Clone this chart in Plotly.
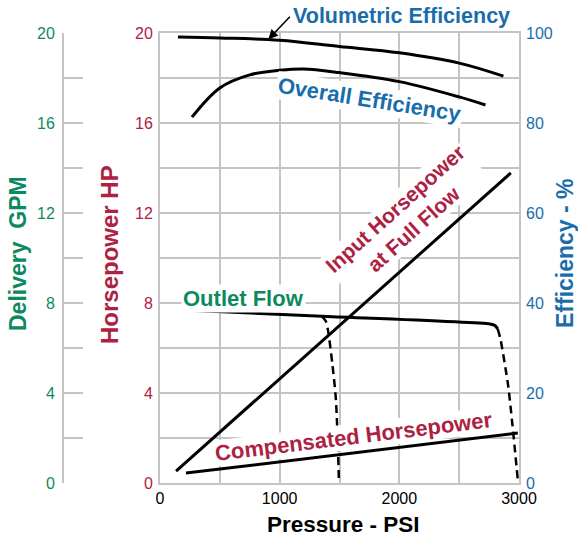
import plotly.graph_objects as go

W, H = 578, 540
GREEN = "#0d8a5d"
RED = "#ad2243"
BLUE = "#1a6dab"
GRID = "#c4c4c4"
FONT = "Liberation Sans, Arial, sans-serif"

# ---- data ----
vol_psi = [150, 500, 1000, 1500, 2000, 2500, 2870]
vol_eff = [99.1, 98.9, 98.4, 97.0, 95.6, 93.3, 90.4]

ovr_psi = [267, 500, 750, 1000, 1200, 1500, 2000, 2500, 2720]
ovr_eff = [81.3, 87.8, 90.7, 91.7, 92.0, 91.2, 89.2, 85.8, 84.0]

inhp_psi = [134, 2932]
inhp_hp = [0.53, 13.78]

comp_psi = [217, 2990]
comp_hp = [0.44, 2.22]

flow_psi = [184, 1353, 2757, 2800, 2822]
flow_gpm = [7.69, 7.41, 7.07, 7.0, 6.85]

flow_cut_psi = [2822, 2845, 2910, 2990]
flow_cut_gpm = [6.85, 6.4, 4.3, 0.15]

comp_cut_psi = [1353, 1385, 1405, 1440, 1470, 1495]
comp_cut_gpm = [7.41, 7.2, 6.75, 5.3, 3.7, 0.13]

x_ticks = [0, 500, 1000, 1500, 2000, 2500, 3000]
x_text = ["0", "", "1000", "", "2000", "", "3000"]
y_ticks = [0, 2, 4, 6, 8, 10, 12, 14, 16, 18, 20]
y_text = ["0", "", "4", "", "8", "", "12", "", "16", "", "20"]
e_ticks = [0, 20, 40, 60, 80, 100]
e_text = ["0", "20", "40", "60", "80", "100"]

fig = go.Figure()
line = dict(color="black", width=3)
dline = dict(color="black", width=2.5, dash="8px,5px")

fig.add_trace(go.Scatter(x=vol_psi, y=vol_eff, mode="lines", line=dict(line, shape="spline"), yaxis="y3"))
fig.add_trace(go.Scatter(x=ovr_psi, y=ovr_eff, mode="lines", line=dict(line, shape="spline"), yaxis="y3"))
fig.add_trace(go.Scatter(x=inhp_psi, y=inhp_hp, mode="lines", line=line, yaxis="y"))
fig.add_trace(go.Scatter(x=comp_psi, y=comp_hp, mode="lines", line=line, yaxis="y"))
fig.add_trace(go.Scatter(x=flow_psi, y=flow_gpm, mode="lines", line=dict(line, shape="spline", smoothing=0.6), yaxis="y2"))
fig.add_trace(go.Scatter(x=flow_cut_psi, y=flow_cut_gpm, mode="lines", line=dict(dline, shape="spline", smoothing=0.6), yaxis="y2"))
fig.add_trace(go.Scatter(x=comp_cut_psi, y=comp_cut_gpm, mode="lines", line=dict(dline, shape="spline", smoothing=0.8), yaxis="y2"))

xd = [160 / W, 519 / W]
yd = [57 / H, 507 / H]

def px(x, y):
    return x / W, 1 - y / H

anns = []
def label(text, x, y, color, size, angle=0, bg=None, pad=1):
    ax_, ay_ = px(x, y)
    d = dict(text=text, x=ax_, y=ay_, xref="paper", yref="paper", showarrow=False,
             font=dict(family=FONT, size=size, color=color), textangle=angle,
             xanchor="center", yanchor="middle")
    if bg:
        d["bgcolor"] = bg
        d["borderpad"] = pad
    anns.append(d)

# axis titles
label("<b>Delivery\u00a0\u00a0GPM</b>", 18, 254, GREEN, 23, -90)
label("<b>Horsepower HP</b>", 109, 255, RED, 24, -90)
label("<b>Efficiency - %</b>", 565, 253, BLUE, 23, -90)
label("<b>Pressure - PSI</b>", 343, 524, "black", 22.5)

# curve labels
label("<b>Volumetric Efficiency</b>", 401, 16, BLUE, 21.5)
label("<b>Overall Efficiency</b>", 369, 99, BLUE, 22, 9, "white")
label("<b>Input Horsepower<br>at Full Flow</b>", 404, 219, RED, 21, -42, "white")
label("<b>Outlet Flow</b>", 244, 298, GREEN, 22, 0, "white")
label("<b>Compensated Horsepower</b>", 354, 436, RED, 22, -7, "white", 0)

# arrow for volumetric efficiency
anns.append(dict(x=905, y=98.6, xref="x", yref="y3", text="", showarrow=True,
                 arrowhead=2, arrowsize=1.2, arrowwidth=1.6, arrowcolor="black",
                 ax=23, ay=-24, axref="pixel", ayref="pixel"))

tfont = dict(family=FONT, size=16)

fig.update_layout(
    width=W, height=H, margin=dict(l=0, r=0, t=0, b=0, autoexpand=False),
    paper_bgcolor="white", plot_bgcolor="white", showlegend=False,
    annotations=anns,
    xaxis=dict(domain=xd, range=[0, 3000], tickvals=x_ticks, ticktext=x_text, automargin=False,
               tickfont=dict(tfont, color="black"), showgrid=True, gridcolor=GRID, gridwidth=2,
               showline=True, linecolor=GRID, linewidth=2, mirror=True, zeroline=False,
               ticks="", fixedrange=True),
    yaxis=dict(domain=yd, range=[0, 20], tickvals=y_ticks, ticktext=y_text, automargin=False,
               tickfont=dict(tfont, color=RED), showgrid=True, gridcolor=GRID, gridwidth=2,
               showline=True, linecolor=GRID, linewidth=2, mirror=True, zeroline=False,
               ticks="", ticklabelstandoff=2),
    yaxis2=dict(overlaying="y", anchor="free", position=63 / W, side="left", range=[0, 20],
                tickvals=y_ticks, ticktext=y_text, tickfont=dict(tfont, color=GREEN), automargin=False,
                showgrid=False, zeroline=False, showline=True, linecolor=GRID, linewidth=2,
                ticks="inside", ticklen=19, tickwidth=2, tickcolor=GRID, ticklabelstandoff=4),
    yaxis3=dict(overlaying="y", anchor="x", side="right", range=[0, 100], automargin=False,
                tickvals=e_ticks, ticktext=e_text, tickfont=dict(tfont, color=BLUE),
                showgrid=False, zeroline=False, showline=False, ticks="", ticklabelstandoff=6),
)

fig.write_html("out.html", config={"displayModeBar": False},
               post_script="document.body.style.margin='0';")
